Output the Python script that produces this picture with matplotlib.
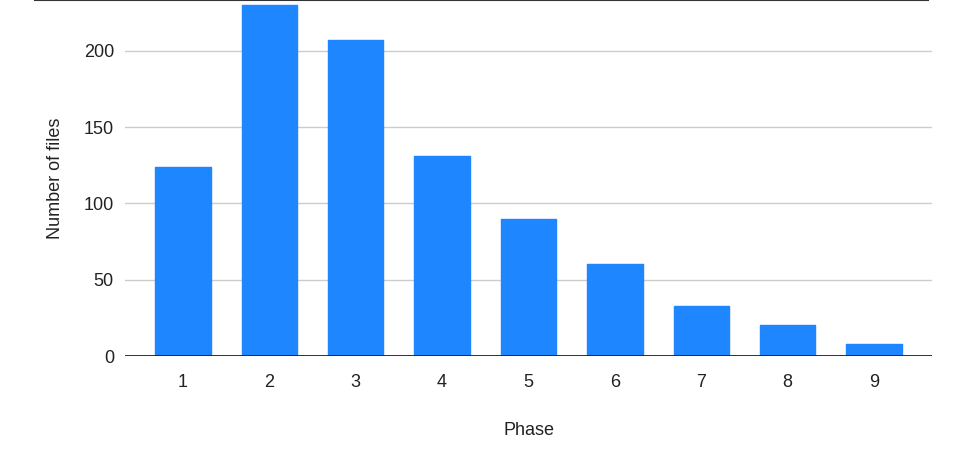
import matplotlib
matplotlib.use('Agg')
import matplotlib.pyplot as plt
from matplotlib.lines import Line2D

plt.rcParams['font.family'] = ['Liberation Sans', 'DejaVu Sans']

# 数据
phases = [1, 2, 3, 4, 5, 6, 7, 8, 9]
files = [124, 230, 207, 131, 90, 60, 33, 20, 8]
yticks = [0, 50, 100, 150, 200]

fig = plt.figure(figsize=(9.58, 4.58), dpi=100)
ax = fig.add_axes([0.1305, 0.2227, 0.8424, 0.7773])

ax.bar(phases, files, width=0.64, color='#1e86ff', edgecolor='#1e86ff',
       linewidth=1, joinstyle='round', zorder=3)

ax.set_xlim(0.33, 9.67)
ax.set_ylim(0, 233.4)
ax.set_yticks(yticks)
ax.set_xticks(phases)
ax.grid(axis='y', color='#cccccc', linewidth=1, zorder=0)
ax.axhline(0, color='#222222', linewidth=1.3, zorder=4)

for s in ax.spines.values():
    s.set_visible(False)
ax.tick_params(length=0, labelsize=13, colors='#222222')
ax.tick_params(axis='y', pad=8)
ax.tick_params(axis='x', pad=13)

ax.set_xlabel('Phase', fontsize=13, color='#222222', labelpad=22)
ax.set_ylabel('Number of files', fontsize=13, color='#222222', labelpad=14)

# 顶部黑线
fig.add_artist(Line2D([35 / 958, 928 / 958], [0.999, 0.999],
                      transform=fig.transFigure, color='#333333', linewidth=1.5))

fig.savefig('out.png', dpi=100)
